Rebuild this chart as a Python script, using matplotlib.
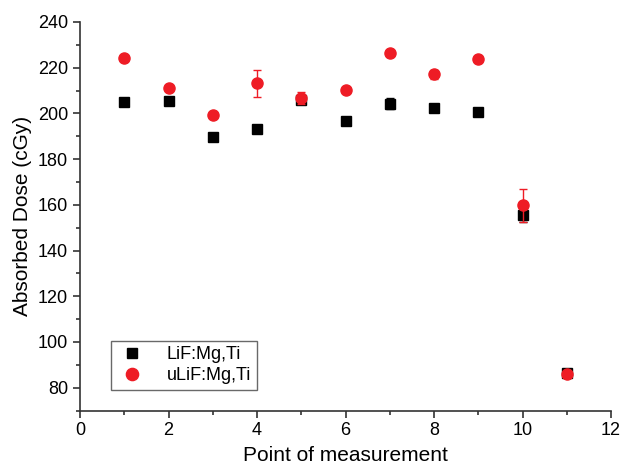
import numpy as np
import matplotlib.pyplot as plt
from matplotlib.ticker import MultipleLocator

plt.rcParams['font.family'] = ['Liberation Sans', 'DejaVu Sans']

# Data
points = [1, 2, 3, 4, 5, 6, 7, 8, 9, 10, 11]
lif_dose = [205, 205.3, 189.5, 193, 205.8, 196.5, 204.3, 202.2, 200.8, 155.5, 86.3]
lif_err = [0.8, 0.8, 0.8, 0.8, 1.0, 0.8, 2.5, 0.8, 0.8, 2.8, 1.5]
ulif_dose = [224.2, 211, 199.5, 213.2, 206.8, 210.1, 226.3, 217.2, 223.9, 159.8, 85.8]
ulif_err = [0.8, 0.8, 0.8, 6.0, 2.5, 0.8, 1.2, 2.0, 0.8, 7.2, 1.2]

fig = plt.figure(figsize=(6.2, 4.72), dpi=100)
ax = fig.add_axes([80 / 620, 1 - 410.5 / 472, 531 / 620, 388.5 / 472])

ax.errorbar(points, lif_dose, yerr=lif_err, fmt='s', color='black', ms=7,
            ecolor='black', elinewidth=1, capsize=3, label='LiF:Mg,Ti', zorder=3)
ax.errorbar(points, ulif_dose, yerr=ulif_err, fmt='o', color='#ee1c25', ms=8,
            ecolor='#ee1c25', elinewidth=1, capsize=3, label='uLiF:Mg,Ti', zorder=4)

ax.set_xlim(0, 12)
ax.set_ylim(70, 240)
ax.xaxis.set_major_locator(MultipleLocator(2))
ax.xaxis.set_minor_locator(MultipleLocator(1))
ax.yaxis.set_major_locator(MultipleLocator(20))
ax.yaxis.set_minor_locator(MultipleLocator(10))
ax.set_yticks(np.arange(80, 241, 20))
ax.spines['top'].set_visible(False)
ax.spines['right'].set_visible(False)
for s in ['left', 'bottom']:
    ax.spines[s].set_linewidth(1.2)
    ax.spines[s].set_color('#333333')
ax.tick_params(which='major', direction='out', length=5, width=1.2, labelsize=13, colors='#333333',
               labelcolor='black')
ax.tick_params(which='minor', direction='out', length=3, width=1.2, colors='#333333')

ax.set_xlabel('Point of measurement', fontsize=15, labelpad=5)
ax.set_ylabel('Absorbed Dose (cGy)', fontsize=15)

handles, labels = ax.get_legend_handles_labels()
handles = [h[0] for h in handles]
leg = ax.legend(handles, labels, loc='lower left', bbox_to_anchor=(0.058, 0.053), fontsize=13,
                frameon=True, fancybox=False, edgecolor='#444444', handlelength=1.8,
                borderpad=0.3, labelspacing=0.25, handletextpad=1.0, markerscale=1.1,
                borderaxespad=0)
leg.get_frame().set_linewidth(1.0)

plt.savefig('out.png', dpi=100)
